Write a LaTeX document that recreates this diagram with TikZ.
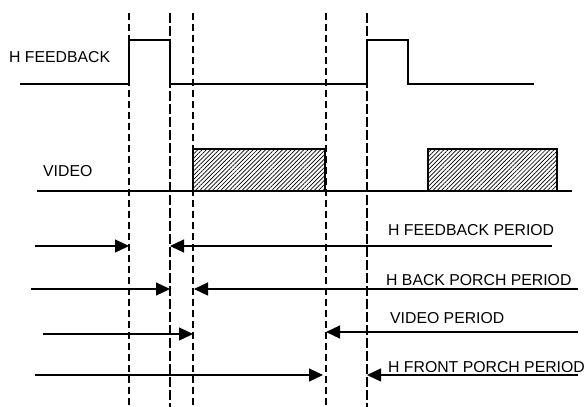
\documentclass[tikz,border=0pt]{standalone}
\usepackage{fontspec}
\setmainfont{Liberation Sans}
\usetikzlibrary{arrows.meta,patterns.meta}

\begin{document}
\begin{tikzpicture}[x=1pt,y=-1pt,
    signal/.style={line width=1.4pt},
    timemark/.style={line width=1.9pt, dash pattern=on 7pt off 4pt},
    thinmark/.style={line width=1.1pt, dash pattern=on 10pt off 3pt},
    hatched/.style={draw, line width=1.4pt, pattern={Lines[angle=45,distance=3pt,line width=0.7pt]}},
    label/.style={anchor=west, inner sep=0pt, font=\fontsize{15.8}{18}\selectfont},
    arrow/.style={line width=1.2pt, -{Triangle[length=14pt,width=13pt]}}
]
\useasboundingbox (0,0) rectangle (587,407);

% time marks
\coordinate (T1) at (129,0);
\coordinate (T2) at (170,0);
\coordinate (T3) at (193,0);
\coordinate (T4) at (326,0);
\coordinate (T5) at (367,0);

\draw[timemark] (T1 |- 0,13) -- (T1 |- 0,407);
\draw[thinmark] (T2 |- 0,13) -- (T2 |- 0,407);
\draw[timemark] (T3 |- 0,13) -- (T3 |- 0,407);
\draw[timemark] (T4 |- 0,13) -- (T4 |- 0,407);
\draw[thinmark] (T5 |- 0,13) -- (T5 |- 0,407);

% signals
\node[label] (hfb) at (9,57) {H FEEDBACK};
\draw[signal] (20,84) -- (129,84) -- (129,40) -- (170,40) -- (170,84) -- (367,84)
    -- (367,40) -- (408,40) -- (408,84) -- (534,84);

\node[label] (video) at (43,171) {VIDEO};
\draw[signal] (37,191) -- (572,191);
\draw[hatched] (193,149) rectangle (325,191);
\draw[hatched] (428,149) rectangle (557,191);

% periods
\node[label] (pfb) at (388,230) {H FEEDBACK PERIOD};
\coordinate (a1) at (35,246);
\coordinate (b1) at (552,246);
\draw[arrow] (a1) -- (a1 -| T1);
\draw[arrow] (b1) -- (b1 -| T2);

\node[label] (pbp) at (386,280) {H BACK PORCH PERIOD};
\coordinate (a2) at (31,289);
\coordinate (b2) at (578,289);
\draw[arrow] (a2) -- (a2 -| T2);
\draw[arrow] (b2) -- ([xshift=1pt]b2 -| T3);

\node[label] (pv) at (390,318) {VIDEO PERIOD};
\coordinate (a3) at (43,334);
\coordinate (b3) at (578,332);
\draw[arrow] (a3) -- (a3 -| T3);
\draw[arrow] (b3) -- (b3 -| T4);

\node[label] (pfp) at (388,367) {H FRONT PORCH PERIOD};
\coordinate (a4) at (35,375);
\coordinate (b4) at (578,375);
\draw[arrow] (a4) -- ([xshift=-3pt]a4 -| T4);
\draw[arrow] (b4) -- (b4 -| T5);

\end{tikzpicture}
\end{document}
